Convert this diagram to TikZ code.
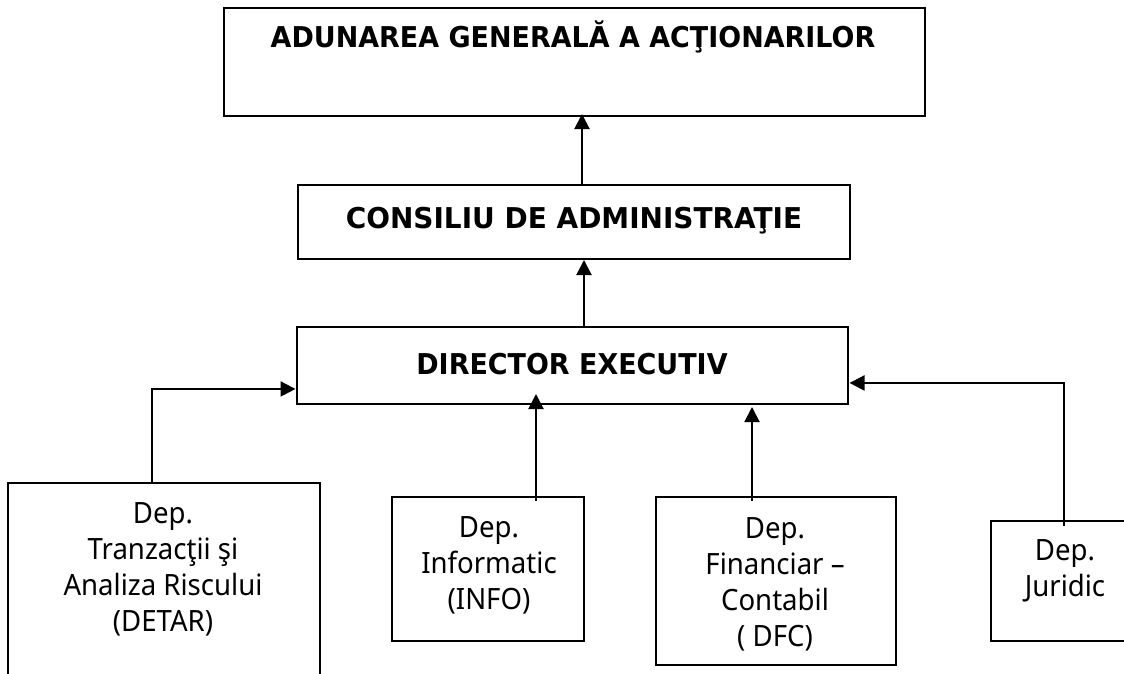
\documentclass[tikz,border=0pt]{standalone}
\usepackage{fontspec}
\usetikzlibrary{arrows.meta}
\setmainfont{Noto Sans}[FakeStretch=0.94]
\newfontfamily\hdfont{DejaVu Sans}[FakeStretch=0.94]
\newfontfamily\hdwide{DejaVu Sans}[FakeStretch=0.975]
\tikzset{
  x=0.75pt,y=-0.75pt,
  boxn/.style={draw=black,line width=1.5pt,rectangle,inner sep=0pt,minimum width=#1},
  boxh/.style={minimum height=#1},
  body/.style={align=center,inner sep=0pt,font=\fontsize{22pt}{27pt}\selectfont},
  head/.style={align=center,inner sep=0pt,font=\hdfont\bfseries\fontsize{21.5pt}{27pt}\selectfont},
  headw/.style={align=center,inner sep=0pt,font=\hdwide\bfseries\fontsize{21.5pt}{27pt}\selectfont},
  arr/.style={line width=1.5pt,-{Triangle[length=11.25pt,width=11.25pt]},shorten >=0pt},
}
\begin{document}
\begin{tikzpicture}
\useasboundingbox (0,0) rectangle (1124,674);
\clip (0,0) rectangle (1124,674);
\node[boxn=525.75pt,boxh=81pt] (top) at (574.5,62) {};
\node[boxn=414pt,boxh=55.5pt] (cons) at (574,222) {};
\node[boxn=413.25pt,boxh=57.75pt] (dir) at (572,365.5) {};
\node[boxn=234pt,boxh=150pt] (detar) at (164,583) {};
\node[boxn=144pt,boxh=108pt] (info) at (488,569) {};
\node[boxn=180pt,boxh=126pt] (fin) at (776,581) {};
\node[boxn=150pt,boxh=90pt] (jur) at (1091,581) {};
\node[head] (ttop) at (573,37) {ADUNAREA GENERALĂ A ACŢIONARILOR};
\node[headw] (tcons) at (574,221) {CONSILIU DE ADMINISTRAŢIE};
\node[head] (tdir) at (572,364) {DIRECTOR EXECUTIV};
\node[body] (tdetar) at (163,569) {Dep.\\Tranzacţii şi\\Analiza Riscului\\(DETAR)};
\node[body] (tinfo) at (489,565) {Dep.\\Informatic\\(INFO)};
\node[body] (tfin) at (775,584) {Dep.\\Financiar –\\Contabil\\( DFC)};
\node[body] (tjur) at (1065,571) {Dep.\\Juridic};
\draw[arr] ([xshift=-9pt]detar.north) |- ([yshift=-17.6pt]dir.west);
\draw[arr] ([xshift=36pt,yshift=-3.75pt]info.north) -- ([xshift=-27pt,yshift=8.25pt]dir.south);
\draw[arr] ([xshift=-18pt,yshift=-3.75pt]fin.north) -- ([xshift=135pt,yshift=-1.5pt]dir.south);
\draw[arr] ([xshift=-20.25pt,yshift=-4.5pt]jur.north) |- ([xshift=0.75pt,yshift=-13.1pt]dir.east);
\draw[arr] ([xshift=9pt]dir.north) -- ([xshift=7.5pt]cons.south);
\draw[arr] ([xshift=6pt]cons.north) -- ([xshift=5.625pt,yshift=2.25pt]top.south);
\end{tikzpicture}
\end{document}
